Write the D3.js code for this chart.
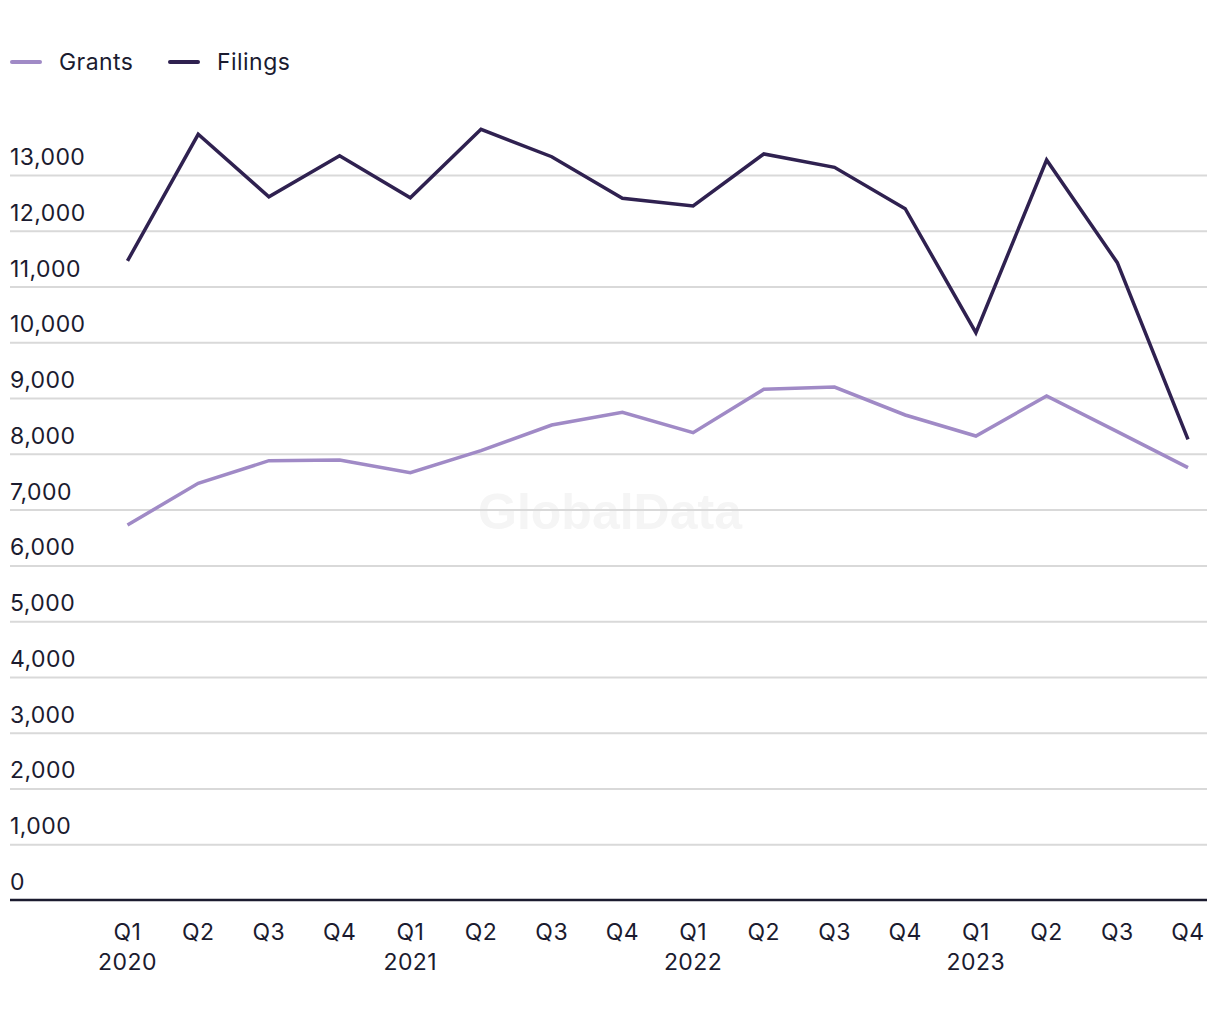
<!DOCTYPE html>
<html>
<head>
<meta charset="utf-8">
<script src="https://cdn.jsdelivr.net/npm/d3@7"></script>
<style>
  html, body { margin: 0; padding: 0; background: #ffffff; }
  svg { display: block; font-family: Inter, "Noto Sans", sans-serif; }
</style>
</head>
<body>
<svg id="chart" width="1220" height="1020"></svg>
<script>
const quarters = ["Q1","Q2","Q3","Q4","Q1","Q2","Q3","Q4","Q1","Q2","Q3","Q4","Q1","Q2","Q3","Q4"];
const years = ["2020","","","","2021","","","","2022","","","","2023","","",""];
const grants = [6724, 7471, 7877, 7890, 7662, 8057, 8517, 8745, 8380, 9157, 9198, 8697, 8320, 9037, 8398, 7752];
const filings = [11460, 13730, 12610, 13346, 12593, 13819, 13328, 12582, 12444, 13377, 13138, 12396, 10173, 13269, 11428, 8260];
const yTicks = [0, 1000, 2000, 3000, 4000, 5000, 6000, 7000, 8000, 9000, 10000, 11000, 12000, 13000];
const seriesNames = ["Grants", "Filings"];
const seriesColors = ["#a08ac6", "#2f2150"];

const svg = d3.select("#chart");
const textColor = "#1b1b2f";
const left = 10, right = 1207;
const fs = 23, ls = 0.45;

const x = d3.scalePoint().domain(d3.range(quarters.length)).range([127.5, 1188]);
const y = d3.scaleLinear().domain([0, 13000]).range([900, 175]);

// watermark
svg.append("text")
  .attr("x", 610).attr("y", 529)
  .attr("text-anchor", "middle")
  .attr("font-family", "Liberation Sans, Arial, sans-serif")
  .attr("font-weight", "bold")
  .attr("font-size", 50)
  .attr("fill", "#f5f5f5")
  .text("GlobalData");

// gridlines
svg.append("g")
  .attr("transform", `translate(${right},0)`)
  .call(d3.axisRight(y).tickValues(yTicks.filter(d => d > 0)).tickSize(-(right - left)).tickFormat(""))
  .call(g => g.select(".domain").remove())
  .call(g => g.selectAll("line").attr("stroke", "#d9d9d9").attr("stroke-width", 2));

// y labels
svg.append("g").selectAll("text").data(yTicks).join("text")
  .attr("x", left)
  .attr("y", d => y(d) - 10)
  .attr("font-size", fs)
  .attr("letter-spacing", ls)
  .attr("fill", textColor)
  .text(d => d3.format(",")(d));

// baseline axis
svg.append("g")
  .attr("transform", `translate(0,${y(0)})`)
  .call(d3.axisBottom(x).tickSize(0).tickFormat(""))
  .call(g => g.select(".domain").attr("d", `M${left},0H${right}`).attr("stroke", "#1b1b2f").attr("stroke-width", 2.5));

// x labels
const xl = svg.append("g");
xl.selectAll("text.q").data(quarters).join("text")
  .attr("class", "q")
  .attr("x", (d, i) => x(i)).attr("y", 940)
  .attr("text-anchor", "middle")
  .attr("font-size", fs)
  .attr("letter-spacing", ls)
  .attr("fill", textColor)
  .text(d => d);
xl.selectAll("text.yr").data(years).join("text")
  .attr("class", "yr")
  .attr("x", (d, i) => x(i)).attr("y", 970)
  .attr("text-anchor", "middle")
  .attr("font-size", fs)
  .attr("letter-spacing", ls)
  .attr("fill", textColor)
  .text(d => d);

// lines
const line = d3.line().x((d, i) => x(i)).y(d => y(d));
[grants, filings].forEach((s, k) => {
  svg.append("path")
    .datum(s)
    .attr("d", line)
    .attr("fill", "none")
    .attr("stroke", seriesColors[k])
    .attr("stroke-width", 3.5)
    .attr("stroke-linejoin", "miter");
});

// legend
const legendX = [10, 168];
const lg = svg.append("g");
seriesNames.forEach((n, k) => {
  lg.append("line")
    .attr("x1", legendX[k] + 2).attr("x2", legendX[k] + 30)
    .attr("y1", 62).attr("y2", 62)
    .attr("stroke", seriesColors[k]).attr("stroke-width", 4)
    .attr("stroke-linecap", "round");
  lg.append("text")
    .attr("x", legendX[k] + 49).attr("y", 70)
    .attr("font-size", fs)
    .attr("letter-spacing", ls)
    .attr("fill", textColor)
    .text(n);
});
</script>
</body>
</html>
